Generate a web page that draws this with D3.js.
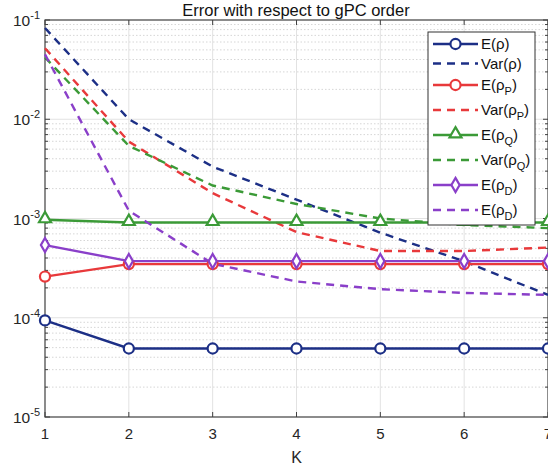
<!DOCTYPE html>
<html><head><meta charset="utf-8">
<script src="https://cdn.jsdelivr.net/npm/d3@7"></script>
<style>
body{margin:0;background:#fff;}
text{font-family:"Liberation Sans",Arial,sans-serif;}
</style></head>
<body><svg id="c" width="548" height="466"></svg>
<script>
const K = [1,2,3,4,5,6,7];
const xTicks = [1,2,3,4,5,6,7];
const yTicks = [1e-5,1e-4,1e-3,1e-2,1e-1];
const yTickExp = ["-5","-4","-3","-2","-1"];
const E_rho    = [9.4e-5,4.9e-5,4.9e-5,4.9e-5,4.9e-5,4.9e-5,4.9e-5];
const Var_rho  = [8.3e-2,1.0e-2,3.33e-3,1.55e-3,7.2e-4,3.7e-4,1.7e-4];
const E_rhoP   = [2.6e-4,3.47e-4,3.47e-4,3.47e-4,3.47e-4,3.47e-4,3.47e-4];
const Var_rhoP = [5.2e-2,5.95e-3,1.8e-3,7.3e-4,4.7e-4,4.7e-4,5.1e-4];
const E_rhoQ   = [9.7e-4,9.1e-4,9.1e-4,9.1e-4,9.1e-4,9.1e-4,9.1e-4];
const Var_rhoQ = [4.2e-2,5.4e-3,2.15e-3,1.4e-3,1.0e-3,8.6e-4,8.0e-4];
const E_rhoD   = [5.4e-4,3.72e-4,3.72e-4,3.72e-4,3.72e-4,3.72e-4,3.72e-4];
const Var_rhoD = [4.5e-2,1.2e-3,3.5e-4,2.32e-4,1.94e-4,1.78e-4,1.7e-4];
const labelBase = ["E(\u03C1","Var(\u03C1","E(\u03C1","Var(\u03C1","E(\u03C1","Var(\u03C1","E(\u03C1","E(\u03C1"];
const labelSub  = ["","","P","P","Q","Q","D","D"];
const title = "Error with respect to gPC order";
const xLabel = "K";

const C = {navy:"#1c2f86", red:"#e8393b", green:"#3b9a37", purple:"#8a3fc9"};
const series = [
  {v:E_rho,    c:C.navy,   dash:false, m:"circle"},
  {v:Var_rho,  c:C.navy,   dash:true,  m:null},
  {v:E_rhoP,   c:C.red,    dash:false, m:"circle"},
  {v:Var_rhoP, c:C.red,    dash:true,  m:null},
  {v:E_rhoQ,   c:C.green,  dash:false, m:"triangle"},
  {v:Var_rhoQ, c:C.green,  dash:true,  m:null},
  {v:E_rhoD,   c:C.purple, dash:false, m:"diamond"},
  {v:Var_rhoD, c:C.purple, dash:true,  m:null}
];

const svg = d3.select("#c");
const L=45, R=548, T=20, B=417;
const x = d3.scaleLinear().domain([1,7]).range([L,R]);
const y = d3.scaleLog().domain([1e-5,1e-1]).range([B,T]);

// grid
const g = svg.append("g");
const minors = [];
for (let e=-5;e<-1;e++) for (let m=2;m<=9;m++) minors.push(m*Math.pow(10,e));
g.selectAll(".mn").data(minors).enter().append("line")
  .attr("x1",L).attr("x2",R).attr("y1",d=>y(d)).attr("y2",d=>y(d))
  .attr("stroke","#d6d6d6").attr("stroke-width",1).attr("stroke-dasharray","1.5,2");
g.selectAll(".mj").data(yTicks.slice(1,4)).enter().append("line")
  .attr("x1",L).attr("x2",R).attr("y1",d=>y(d)).attr("y2",d=>y(d))
  .attr("stroke","#e2e2e2").attr("stroke-width",1);
g.selectAll(".vx").data(xTicks.slice(1,6)).enter().append("line")
  .attr("x1",d=>x(d)).attr("x2",d=>x(d)).attr("y1",T).attr("y2",B)
  .attr("stroke","#e2e2e2").attr("stroke-width",1);

// axes box
const axc="#404040";
svg.append("rect").attr("x",L).attr("y",T).attr("width",R-L).attr("height",B-T)
  .attr("fill","none").attr("stroke",axc).attr("stroke-width",1.2);
svg.selectAll(".xt").data(xTicks).enter().append("path")
  .attr("d",d=>`M${x(d)},${B}v-5M${x(d)},${T}v5`).attr("stroke",axc).attr("stroke-width",1);
const ytAll = minors.concat(yTicks);
svg.selectAll(".yt").data(ytAll).enter().append("path")
  .attr("d",d=>{const l = yTicks.includes(d)?5:3; return `M${L},${y(d)}h${l}M${R},${y(d)}h${-l}`;})
  .attr("stroke",axc).attr("stroke-width",1);

// tick labels
svg.selectAll(".xl").data(xTicks).enter().append("text")
  .attr("x",d=>x(d)).attr("y",439).attr("text-anchor","middle")
  .attr("font-size",15).attr("fill","#262626").text(d=>d);
const yl = svg.selectAll(".yl").data(yTicks).enter().append("text")
  .attr("x",40).attr("y",d=>y(d)+6).attr("text-anchor","end")
  .attr("font-size",15.5).attr("fill","#262626");
yl.append("tspan").text("10");
yl.append("tspan").attr("dy",-7).attr("font-size",11).text((d,i)=>yTickExp[i]);

svg.append("text").attr("x",(L+R)/2).attr("y",463).attr("text-anchor","middle")
  .attr("font-size",16).attr("fill","#262626").text(xLabel);
svg.append("text").attr("x",296).attr("y",16).attr("text-anchor","middle")
  .attr("font-size",16.5).attr("fill","#111").text(title);

// series
const line = d3.line().x((d,i)=>x(K[i])).y(d=>y(d));
const sym = {circle:d3.symbolCircle, triangle:d3.symbolTriangle, diamond:d3.symbolDiamond};
const symSize = {circle:80, triangle:62, diamond:58};
function marker(sel, m, c){
  sel.attr("d", d3.symbol().type(sym[m]).size(symSize[m])())
    .attr("fill","#fff").attr("stroke",c).attr("stroke-width",2.2);
}
series.forEach(s=>{
  svg.append("path").datum(s.v).attr("d",line).attr("fill","none")
    .attr("stroke",s.c).attr("stroke-width",2.4)
    .attr("stroke-dasharray",s.dash?"8,6":null);
});
series.forEach(s=>{
  if(!s.m) return;
  svg.selectAll(null).data(s.v).enter().append("path")
    .attr("transform",(d,i)=>`translate(${x(K[i])},${y(d)+(s.m==="triangle"?-1:0)})`)
    .call(marker,s.m,s.c);
});

// legend
const lg = svg.append("g");
lg.append("rect").attr("x",428).attr("y",32).attr("width",107).attr("height",193)
  .attr("fill","#fff").attr("stroke","#333").attr("stroke-width",1);
const ly = i => i<2 ? 44+i*19.5 : 85+(i-2)*25;
series.forEach((s,i)=>{
  const yy = ly(i);
  lg.append("line").attr("x1",433).attr("x2",478).attr("y1",yy).attr("y2",yy)
    .attr("stroke",s.c).attr("stroke-width",2.4).attr("stroke-dasharray",s.dash?"8,6":null);
  if(s.m){
    lg.append("path").attr("transform",`translate(455.5,${yy+(s.m==="triangle"?-1:0)})`).call(marker,s.m,s.c);
  }
  const t = lg.append("text").attr("x",481).attr("y",yy+5).attr("font-size",15).attr("fill","#111");
  t.append("tspan").text(labelBase[i]);
  if(labelSub[i]){
    t.append("tspan").attr("dy",5).attr("font-size",11).text(labelSub[i]);
    t.append("tspan").attr("dy",-5).text(")");
  } else t.append("tspan").text(")");
});
</script></body></html>
